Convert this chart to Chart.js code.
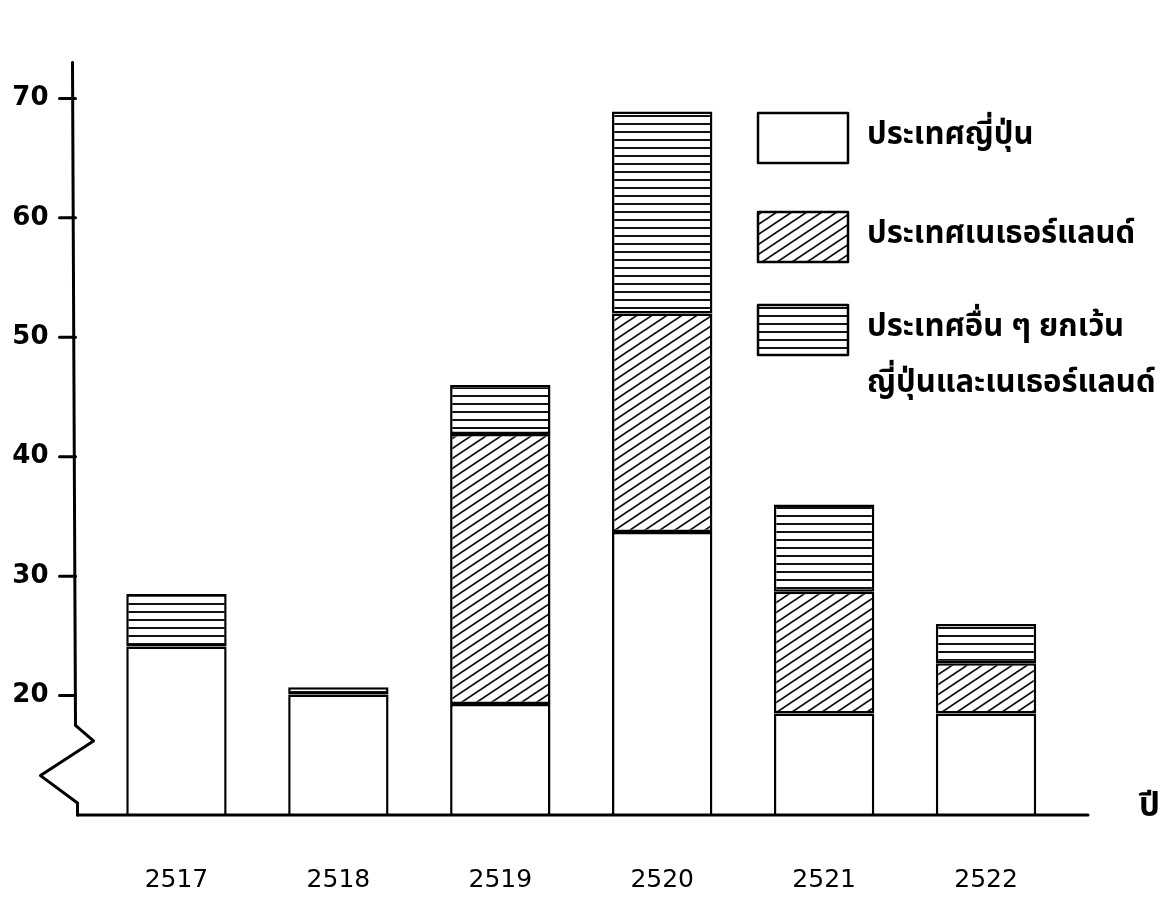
<!DOCTYPE html>
<html>
<head>
<meta charset="utf-8">
<script src="https://cdn.jsdelivr.net/npm/chart.js@4.4.1/dist/chart.umd.min.js"></script>
<style>
  html, body { margin: 0; padding: 0; background: #fff; }
  #wrap { width: 1172px; height: 899px; }
</style>
</head>
<body>
<div id="wrap"><canvas id="chart" width="1172" height="899"></canvas></div>
<script>
// ปี พ.ศ.
const years = ['2517', '2518', '2519', '2520', '2521', '2522'];
// values
const japan = [24.1, 20.1, 19.3, 33.7, 18.5, 18.5];
const netherlands = [0, 0, 22.6, 18.3, 10.2, 4.2];
const others = [4.4, 0.6, 4.1, 16.9, 7.3, 3.3];
const yTicks = [20, 30, 40, 50, 60, 70];
const legendLines = [
  ['ประเทศญี่ปุ่น'],
  ['ประเทศเนเธอร์แลนด์'],
  ['ประเทศอื่น ๆ ยกเว้น', 'ญี่ปุ่นและเนเธอร์แลนด์']
];
const xTitle = 'ปี';

const thaiFont = '"Noto Sans Thai", "Noto Sans Thai Looped", Loma, Garuda, "Tlwg Typo", "Noto Sans", sans-serif';

function makePattern(kind) {
  const c = document.createElement('canvas');
  const g = c.getContext('2d');
  if (kind === 'horiz') {
    c.width = 8; c.height = 8;
    g.fillStyle = '#fff';
    g.fillRect(0, 0, 8, 8);
    g.fillStyle = '#111';
    g.fillRect(0, 3, 8, 2);
  } else if (kind === 'diag') {
    const w = 15, h = 10;
    c.width = w; c.height = h;
    g.fillStyle = '#fff';
    g.fillRect(0, 0, w, h);
    g.strokeStyle = '#111';
    g.lineWidth = 1.8;
    for (const k of [-1, 0, 1]) {
      g.beginPath();
      g.moveTo(-w + k * w, 2 * h);
      g.lineTo(2 * w + k * w, -h);
      g.stroke();
    }
  } else {
    c.width = 4; c.height = 4;
    g.fillStyle = '#fff';
    g.fillRect(0, 0, 4, 4);
  }
  return g.createPattern(c, 'repeat');
}

const fills = [makePattern('plain'), makePattern('diag'), makePattern('horiz')];

const axisPlugin = {
  id: 'axisPlugin',
  afterDatasetsDraw(chart) {
    const { ctx, chartArea } = chart;
    const y = chart.scales.y;
    const ax = chartArea.left - 20;
    const base = chartArea.bottom;
    ctx.save();
    ctx.strokeStyle = '#000';
    ctx.lineWidth = 3;
    ctx.lineJoin = 'round';
    ctx.lineCap = 'round';
    // broken y axis
    ctx.beginPath();
    ctx.moveTo(ax - 3, chartArea.top);
    ctx.lineTo(ax, y.getPixelForValue(17.5));
    ctx.lineTo(ax + 18, y.getPixelForValue(16.2));
    ctx.lineTo(ax - 35, y.getPixelForValue(13.3));
    ctx.lineTo(ax + 2, y.getPixelForValue(11.0));
    ctx.lineTo(ax + 2, base);
    ctx.stroke();
    // tick marks
    for (const v of yTicks) {
      const p = y.getPixelForValue(v);
      ctx.beginPath();
      ctx.moveTo(ax - 16, p);
      ctx.lineTo(ax, p);
      ctx.stroke();
    }
    // x axis
    ctx.beginPath();
    ctx.moveTo(ax + 2, base);
    ctx.lineTo(chartArea.right + 21, base);
    ctx.stroke();
    // x title
    ctx.fillStyle = '#000';
    ctx.font = 'bold 33px ' + thaiFont;
    ctx.textAlign = 'left';
    ctx.textBaseline = 'alphabetic';
    ctx.fillText(xTitle, chartArea.right + 72, base + 1);

    // legend
    const lx = 758, lw = 90, lh = 50;
    const tops = [113, 212, 305];
    ctx.font = 'bold 31px ' + thaiFont;
    ctx.textBaseline = 'middle';
    chart.data.datasets.forEach((ds, i) => {
      const top = tops[i];
      ctx.fillStyle = ds.backgroundColor;
      ctx.fillRect(lx, top, lw, lh);
      ctx.lineWidth = 2.5;
      ctx.strokeRect(lx, top, lw, lh);
      ctx.fillStyle = '#000';
      legendLines[i].forEach((line, j) => {
        ctx.fillText(line, lx + 109, top + lh / 2 + j * 56);
      });
    });
    ctx.restore();
  }
};

const ctx = document.getElementById('chart').getContext('2d');
new Chart(ctx, {
  type: 'bar',
  data: {
    labels: years,
    datasets: [
      { label: legendLines[0].join(' '), data: japan, backgroundColor: fills[0] },
      { label: legendLines[1].join(' '), data: netherlands, backgroundColor: fills[1] },
      { label: legendLines[2].join(' '), data: others, backgroundColor: fills[2] }
    ].map(d => Object.assign(d, {
      borderColor: '#000',
      borderWidth: 2.5,
      borderSkipped: false,
      barPercentage: 0.62,
      categoryPercentage: 1.0,
      clip: 0
    }))
  },
  options: {
    responsive: false,
    animation: false,
    layout: { padding: { top: 10, right: 105, bottom: 0, left: 0 } },
    plugins: {
      legend: { display: false },
      tooltip: { enabled: false }
    },
    scales: {
      x: {
        stacked: true,
        offset: true,
        grid: { display: false, drawTicks: false },
        border: { display: false },
        ticks: {
          color: '#000',
          padding: 50,
          font: { family: 'DejaVu Sans', size: 25 }
        },
        afterFit(scale) { scale.height = 84; }
      },
      y: {
        stacked: true,
        min: 10,
        max: 73,
        grid: { display: false, drawTicks: false },
        border: { display: false },
        afterBuildTicks(scale) {
          scale.ticks = yTicks.map(v => ({ value: v }));
        },
        ticks: {
          color: '#000',
          padding: 47,
          font: { family: 'DejaVu Sans', size: 26, weight: 'bold' }
        },
        afterFit(scale) { scale.width = 95.5; }
      }
    }
  },
  plugins: [axisPlugin]
});
</script>
</body>
</html>
